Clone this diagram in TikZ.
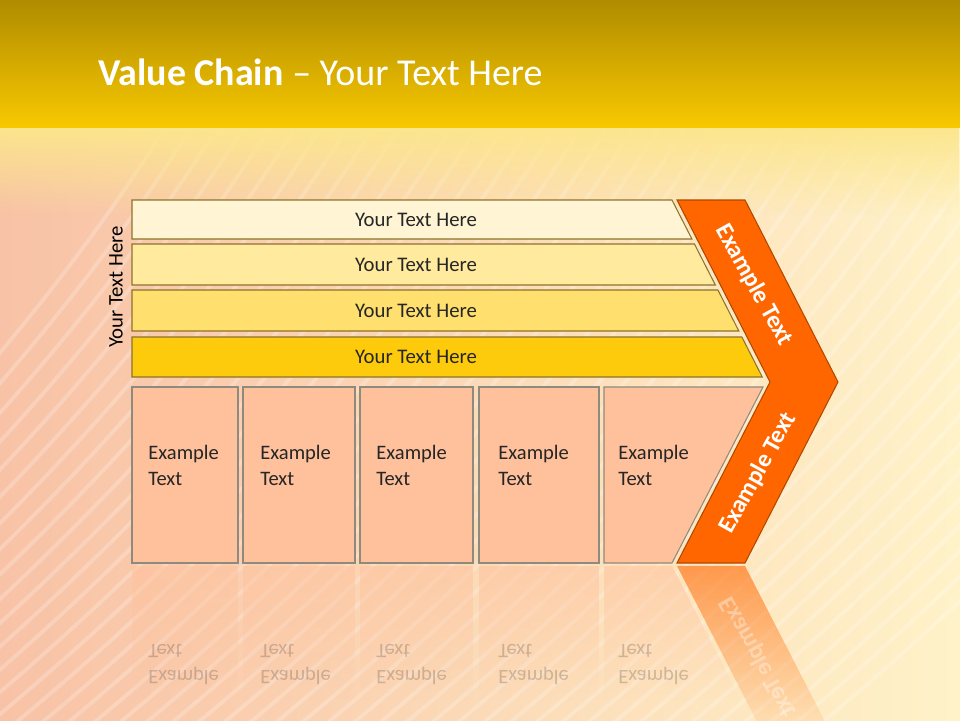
\documentclass[tikz,border=0pt]{standalone}
\usepackage{fontspec}
\setmainfont{Carlito}
\usetikzlibrary{fadings}

\definecolor{bandtop}{HTML}{B08C00}
\definecolor{bandbot}{HTML}{F8C800}
\definecolor{peachbg}{HTML}{F8C2A6}
\definecolor{creambg}{HTML}{FFF2C8}
\definecolor{barA}{HTML}{FFF5D5}
\definecolor{barB}{HTML}{FFEA9E}
\definecolor{barC}{HTML}{FFDF6E}
\definecolor{barD}{HTML}{FDCB0C}
\definecolor{barline}{HTML}{8C7328}
\definecolor{boxfill}{HTML}{FFC19C}
\definecolor{boxline}{HTML}{8E8A7E}
\definecolor{chevfill}{HTML}{FF6600}
\definecolor{chevline}{HTML}{B04800}
\definecolor{ink}{HTML}{262626}

\tikzfading[name=fadedown, top color=transparent!0, bottom color=transparent!100]

\begin{document}
\begin{tikzpicture}[x=0.02cm, y=-0.02cm,
  bar/.style={draw=barline, line width=0.6pt},
  tile/.style={draw=boxline, fill=boxfill, line width=0.6pt},
  bartext/.style={text=ink, font=\fontsize{11.8}{14}\selectfont},
  tiletext/.style={text=ink, font=\fontsize{11.7}{14.6}\selectfont, align=left,
    anchor=north west, inner sep=0pt},
  chevtext/.style={text=white, font=\bfseries\fontsize{14}{16}\selectfont, inner sep=1pt}]
  \useasboundingbox (0,0) rectangle (960,720);

  % background
  \shade[left color=peachbg, right color=creambg] (0,0) rectangle (960,720);
  \foreach \k in {0,...,46}
    \draw[white, opacity=.22, line width=2.2pt]
      ({\k*26-420},760) .. controls ({\k*26-170},560) and ({\k*26+40},330) .. ({\k*26+170},120);
  \fill[bandbot!45!white, path fading=fadedown] (0,126) rectangle (960,215);
  \shade[top color=bandtop, bottom color=bandbot] (0,0) rectangle (960,127);
  \node[anchor=base west, inner sep=0pt, text=white, font=\fontsize{21.6}{26}\selectfont] (title) at (98,85)
    {\textbf{Value Chain} – Your Text Here};

  % bars
  \foreach \top/\bot/\col [count=\i] in {200/239/barA, 244/285/barB, 290/331/barC, 337/377/barD} {
    \draw[bar, fill=\col] (132,\top) -- ({672+0.51*(\top-200)},\top)
      -- ({672+0.51*(\bot-200)},\bot) -- (132,\bot) -- cycle;
    \node[bartext] (bar\i) at (416,{(\top+\bot)/2}) {Your Text Here};
  }
  \node[bartext, text=black, rotate=90] (sidelabel) at (116,287) {Your Text Here};

  % tiles
  \foreach \l/\r/\t [count=\i] in {132/238/148, 243/355/260, 360/473/376, 479/599/498} {
    \draw[tile] (\l,387) rectangle (\r,563);
    \node[tiletext] (box\i) at (\t,445) {Example\\Text};
  }
  \draw[tile] (604,387) -- (763,387) -- (672,563) -- (604,563) -- cycle;
  \node[tiletext] (box5) at (618,445) {Example\\Text};

  % chevron
  \draw[fill=chevfill, draw=chevline, line width=0.6pt]
    (677,200) -- (745,200) -- (838,382) -- (745,563) -- (677,563) -- (770,382) -- cycle;
  \node[chevtext, rotate=-61] (chevup) at (754,285) {Example Text};
  \node[chevtext, rotate=61] (chevdown) at (758,473) {Example Text};

  % reflection
  \foreach \l/\r in {132/238, 243/355, 360/473, 479/599}
    \fill[boxfill, opacity=.55, path fading=fadedown] (\l,566) rectangle (\r,700);
  \fill[boxfill, opacity=.55, path fading=fadedown] (604,566) -- (672,566) -- (741,700) -- (604,700) -- cycle;
  \fill[chevfill, opacity=.6, path fading=fadedown] (677,566) -- (745,566) -- (838,747) -- (770,747) -- cycle;
  \begin{scope}[shift={(0,1130)}, yscale=-1]
    \foreach \t [count=\i] in {148, 260, 376, 498, 618}
      \node[tiletext, transform shape, opacity=.22] (mirror\i) at (\t,445) {Example\\Text};
    \node[chevtext, transform shape, rotate=61, opacity=.35] (mirrorchev) at (758,473) {Example Text};
  \end{scope}
\end{tikzpicture}
\end{document}
